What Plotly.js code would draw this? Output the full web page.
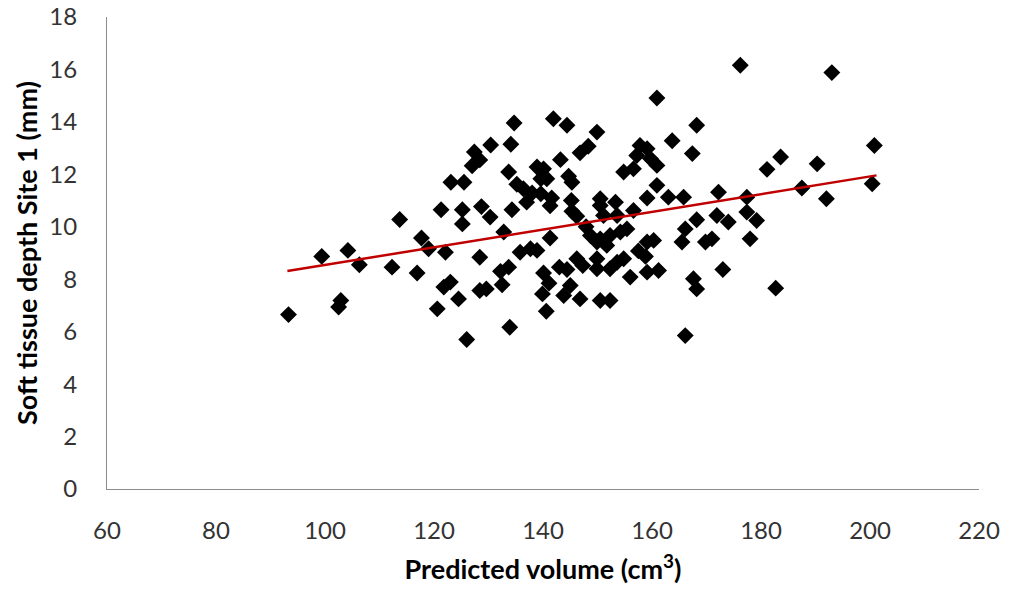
<!DOCTYPE html>
<html>
<head>
<meta charset="utf-8">
<script src="https://cdn.plot.ly/plotly-3.0.1.min.js"></script>
<style>html,body{margin:0;padding:0;background:#fff;}#chart{width:1011px;height:592px;}</style>
</head>
<body>
<div id="chart"></div>
<script>
// Predicted volume (cm3)
const volume = [
  93.3, 99.4, 104.2, 106.3, 102.9, 102.5, 113.7, 112.3, 116.9, 117.7,
  119.0, 122.1, 121.3, 125.2, 125.2, 128.7, 130.3, 123.1, 125.5, 134.3,
  132.8, 128.4, 121.8, 123.0, 124.5, 120.6, 126.0, 128.4, 129.6, 132.2,
  133.7, 132.5, 133.9, 135.2, 133.7, 127.4, 128.4, 127.0, 130.4, 160.9,
  134.7, 141.9, 144.4, 149.9, 134.1, 146.8, 148.3, 143.2, 163.7, 167.4,
  168.2, 157.8, 159.1, 157.2, 159.7, 160.9, 154.8, 156.6, 138.9, 140.1,
  139.6, 140.7, 136.4, 138.0, 139.6, 141.6, 137.0, 141.3, 144.7, 145.3,
  145.2, 145.3, 146.2, 147.9, 150.5, 153.3, 150.5, 151.1, 153.6, 156.6,
  159.1, 163.0, 165.8, 160.9, 166.1, 165.5, 168.2, 141.3, 148.7, 150.5,
  152.3, 154.2, 155.4, 151.7, 149.9, 160.3, 135.8, 137.7, 138.9, 146.2,
  147.3, 149.9, 157.5, 158.8, 159.1, 153.6, 154.8, 152.3, 143.0, 144.4,
  140.1, 141.1, 139.9, 149.9, 156.0, 159.1, 161.2, 145.0, 143.8, 146.8,
  150.5, 152.3, 140.6, 166.1, 167.6, 168.2, 176.2, 193.0, 183.6, 181.1,
  190.3, 200.8, 200.4, 187.5, 192.0, 172.2, 177.4, 177.4, 179.2, 171.9,
  174.0, 178.0, 169.8, 171.0, 173.0, 182.7
];
// Soft tissue depth Site 1 (mm)
const depth = [
  6.65, 8.87, 9.10, 8.55, 7.19, 6.94, 10.28, 8.46, 8.24, 9.57,
  9.16, 9.03, 10.65, 10.65, 10.11, 10.77, 10.37, 11.70, 11.70, 10.65,
  9.80, 8.84, 7.70, 7.89, 7.25, 6.87, 5.70, 7.57, 7.63, 8.30,
  8.46, 7.79, 6.17, 11.62, 12.09, 12.85, 12.55, 12.33, 13.12, 14.91,
  13.96, 14.12, 13.87, 13.61, 13.15, 12.82, 13.07, 12.56, 13.28, 12.79,
  13.87, 13.10, 12.98, 12.72, 12.60, 12.34, 12.09, 12.21, 12.28, 12.21,
  11.83, 11.83, 11.45, 11.29, 11.26, 11.10, 10.94, 10.80, 11.93, 11.70,
  11.00, 10.59, 10.40, 10.00, 11.07, 10.94, 10.81, 10.43, 10.43, 10.62,
  11.10, 11.13, 11.13, 11.58, 9.92, 9.42, 10.27, 9.57, 9.67, 9.54,
  9.67, 9.80, 9.92, 9.29, 9.42, 9.48, 9.03, 9.16, 9.10, 8.78,
  8.52, 8.78, 9.08, 8.87, 9.42, 8.65, 8.78, 8.40, 8.46, 8.37,
  8.24, 7.85, 7.44, 8.40, 8.08, 8.27, 8.33, 7.76, 7.38, 7.25,
  7.19, 7.19, 6.78, 5.85, 8.02, 7.63, 16.16, 15.88, 12.66, 12.19,
  12.40, 13.10, 11.64, 11.48, 11.07, 11.32, 11.13, 10.56, 10.24, 10.43,
  10.18, 9.54, 9.42, 9.54, 8.37, 7.66
];
// Linear trendline endpoints
const trendX = [93.1, 201.2];
const trendY = [8.31, 11.96];
const xTicks = [60, 80, 100, 120, 140, 160, 180, 200, 220];
const yTicks = [0, 2, 4, 6, 8, 10, 12, 14, 16, 18];

const FONT = 'Lato, "Open Sans", sans-serif';

const traces = [
  {
    x: volume, y: depth, type: 'scatter', mode: 'markers',
    marker: {symbol: 'diamond', size: 13, color: '#000000', line: {width: 0}},
    hoverinfo: 'x+y', showlegend: false
  },
  {
    x: trendX, y: trendY, type: 'scatter', mode: 'lines',
    line: {color: '#C00000', width: 2.5},
    hoverinfo: 'skip', showlegend: false
  }
];

const layout = {
  width: 1011, height: 592,
  margin: {l: 107, r: 32, t: 17, b: 103, pad: 0},
  paper_bgcolor: '#ffffff', plot_bgcolor: '#ffffff',
  font: {family: FONT, color: '#333333'},
  showlegend: false,
  xaxis: {
    range: [60, 220], tickvals: xTicks, ticktext: xTicks.map(String),
    showgrid: false, zeroline: false, showline: true,
    linecolor: '#8c8c8c', linewidth: 1, ticks: '',
    ticklabelstandoff: 20,
    tickfont: {family: FONT, size: 24, color: '#333333'},
    title: {text: 'Predicted volume (cm<sup>3</sup>)', standoff: 17,
            font: {family: FONT, size: 27, color: '#000000', weight: 'bold'}},
    automargin: false, fixedrange: true
  },
  yaxis: {
    range: [0, 18], tickvals: yTicks, ticktext: yTicks.map(String),
    showgrid: false, zeroline: false, showline: true,
    linecolor: '#8c8c8c', linewidth: 1, ticks: '',
    ticklabelstandoff: 24,
    tickfont: {family: FONT, size: 24, color: '#333333'},
    title: {text: 'Soft tissue depth Site 1 (mm)', standoff: 3,
            font: {family: FONT, size: 27, color: '#000000', weight: 'bold'}},
    automargin: false, fixedrange: true
  }
};

Plotly.newPlot('chart', traces, layout, {displayModeBar: false, staticPlot: true});
</script>
</body>
</html>
